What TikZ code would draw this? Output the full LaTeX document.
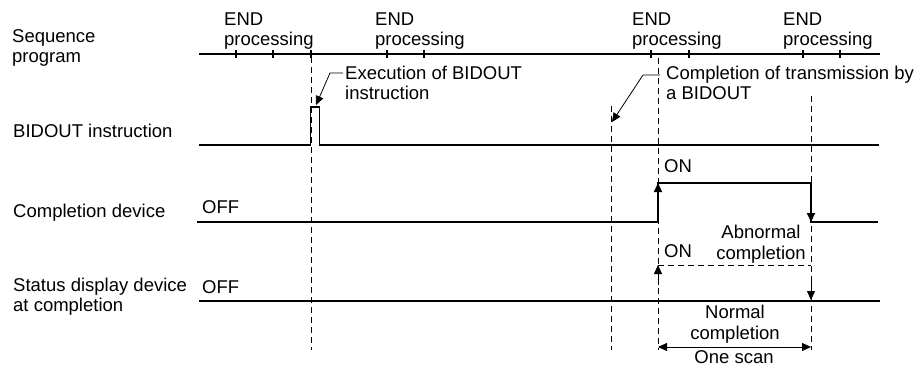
\documentclass[tikz,border=0pt]{standalone}
\usepackage{fontspec}
\setmainfont{Liberation Sans}
\usetikzlibrary{arrows.meta}
\begin{document}
\begin{tikzpicture}[x=1pt,y=-1pt,
  font=\fontsize{18.5}{20.5}\selectfont,
  sig/.style={line width=1.8pt},
  tickln/.style={line width=1.6pt},
  gridln/.style={line width=0.9pt, dash pattern=on 6pt off 4pt},
  lead/.style={line width=0.8pt},
  arr/.style={-{Triangle[length=9pt,width=8pt]}},
  lbl/.style={inner sep=0pt, anchor=base west, align=left},
  clbl/.style={inner sep=0pt, anchor=base, align=center}]
\useasboundingbox (0,0) rectangle (920,374);

% labels (base anchor = baseline of last line)
\node[lbl] (seq) at (12,63) {Sequence\\program};
\node[lbl] (end1) at (224,46) {END\\processing};
\node[lbl] (end2) at (375,46) {END\\processing};
\node[lbl] (end3) at (632,46) {END\\processing};
\node[lbl] (end4) at (783,46) {END\\processing};
\node[lbl] (binst) at (13,138) {BIDOUT instruction};
\node[lbl] (cdev) at (13,217) {Completion device};
\node[lbl] (sdev) at (13,311.5) {Status display device\\at completion};
\node[lbl] (off1) at (202,213) {OFF};
\node[lbl] (off2) at (202,293) {OFF};
\node[lbl] (on1) at (664,173) {ON};
\node[lbl] (on2) at (664,257) {ON};
\node[clbl] (abn) at (761,259) {Abnormal\\completion};
\node[clbl] (norm) at (735,339) {Normal\\completion};
\node[clbl] (scan) at (734,363) {One scan};
\node[lbl] (exec) at (345,100) {Execution of BIDOUT\\instruction};
\node[lbl] (comp) at (666,100) {Completion of transmission by\\a BIDOUT};

% sequence program line and ticks
\draw[sig] (199,54) -- (880,54);
\foreach \t in {236,273,311,387,424,651,689,803,840}
  \draw[tickln] (\t,50) -- (\t,58);

% dashed timing lines
\draw[gridln] (311,57) -- (311,350);
\draw[gridln] (611,106) -- (611,350);
\draw[gridln] (658,58) -- (658,350);
\draw[gridln] (811,96) -- (811,350);

% BIDOUT instruction
\draw[sig] (199,145) -- (310.5,145) -- (310.5,107) -- (319.5,107) -- (319.5,145) -- (879,145);

% Completion device
\draw[sig] (197,222) -- (658,222) -- (658,183) -- (811,183) -- (811,222) -- (878,222);
\draw[sig,arr] (658,205) -- (658,183);
\draw[sig,arr] (811,200) -- (811,222);

% Status display device
\draw[sig] (199,300.7) -- (880,300.7);
\draw[gridln] (658,265) -- (811,265);
\draw[lead,arr] (658,285) -- (658,265);
\draw[lead,arr] (811,280) -- (811,300);

% leaders
\coordinate (ek) at (330,73);
\coordinate (etip) at (316,105);
\draw[lead,arr] (exec.west |- ek) ++(-2,0) -- (ek) -- (etip);
\coordinate (ck) at (643,75);
\coordinate (ctip) at (612,122);
\draw[lead,arr] (660,75) -- (ck) -- (ctip);

% one scan
\coordinate (sa) at (658,347);
\coordinate (sb) at (811,347);
\draw[lead,{Triangle[length=9pt,width=8pt]}-{Triangle[length=9pt,width=8pt]}] (sa) -- (sb);
\end{tikzpicture}
\end{document}
